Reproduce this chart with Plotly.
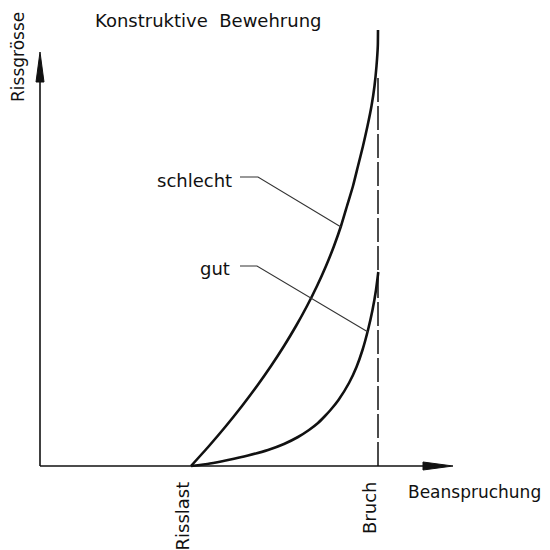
import plotly.graph_objects as go

# Schematic: Beanspruchung (x) vs. Rissgrösse (y), arbitrary units
risslast_x = 151
bruch_x = 338

schlecht_x = [151, 169, 186, 202, 217, 231, 244, 256, 267, 277, 286, 294, 301, 307,
              313, 318, 323, 327.5, 331.5, 334.5, 336.5, 337.8, 338]
schlecht_y = [0, 20, 40, 60, 80, 100, 120, 140, 160, 180, 200, 220, 240, 260,
              280, 300, 320, 340, 360, 380, 400, 420, 436]

gut_x = [151, 170, 188, 208, 228, 244, 258, 269, 278, 285, 290.5, 298.5, 309, 316.5,
         322.5, 328, 332.5, 336, 338.3]
gut_y = [0, 2.5, 6, 10.5, 16, 22, 29, 36, 43, 50, 56, 66, 83, 99,
         116, 136, 156, 176, 194]

tick_vals = [risslast_x, bruch_x]
tick_text = ["Risslast", "Bruch"]

FONT = "DejaVu Sans"
BLACK = "#111111"

fig = go.Figure()

fig.add_trace(go.Scatter(x=schlecht_x, y=schlecht_y, mode="lines",
                         line=dict(color=BLACK, width=2.6, shape="spline", smoothing=0.6),
                         hoverinfo="skip", showlegend=False))
fig.add_trace(go.Scatter(x=gut_x, y=gut_y, mode="lines",
                         line=dict(color=BLACK, width=2.6, shape="spline", smoothing=0.6),
                         hoverinfo="skip", showlegend=False))

shapes = []
# axes
shapes.append(dict(type="line", x0=0, y0=0, x1=0, y1=395, xref="x", yref="y",
                   line=dict(color=BLACK, width=1.6)))
shapes.append(dict(type="line", x0=0, y0=0, x1=395, y1=0, xref="x", yref="y",
                   line=dict(color=BLACK, width=1.6)))
# arrowheads
shapes.append(dict(type="path", path="M 0 414 L -4 384 L 4 384 Z", xref="x", yref="y",
                   fillcolor=BLACK, line=dict(color=BLACK, width=1)))
shapes.append(dict(type="path", path="M 413 0 L 383 -4 L 383 4 Z", xref="x", yref="y",
                   fillcolor=BLACK, line=dict(color=BLACK, width=1)))
# Bruch dashed line
shapes.append(dict(type="line", x0=bruch_x, y0=0, x1=bruch_x, y1=391, xref="x", yref="y",
                   line=dict(color=BLACK, width=1.5, dash="24px,4px")))
# leader lines
shapes.append(dict(type="path", path="M 200 289 L 218 289 L 301 239", xref="x", yref="y",
                   line=dict(color="#333333", width=1.1)))
shapes.append(dict(type="path", path="M 200 200 L 217 200 L 328 134", xref="x", yref="y",
                   line=dict(color="#333333", width=1.1)))

ann = []
ann.append(dict(x=168, y=446, text="Konstruktive  Bewehrung", showarrow=False,
                font=dict(family=FONT, size=18, color=BLACK), xanchor="center", yanchor="middle"))
ann.append(dict(x=-22, y=409, text="Rissgrösse", textangle=-90, showarrow=False,
                font=dict(family=FONT, size=17, color=BLACK), xanchor="center", yanchor="middle"))
ann.append(dict(x=434, y=-26, text="Beanspruchung", showarrow=False,
                font=dict(family=FONT, size=17, color=BLACK), xanchor="center", yanchor="middle"))
ann.append(dict(x=154, y=286, text="schlecht", showarrow=False,
                font=dict(family=FONT, size=18, color=BLACK), xanchor="center", yanchor="middle"))
ann.append(dict(x=175, y=198, text="gut", showarrow=False,
                font=dict(family=FONT, size=18, color=BLACK), xanchor="center", yanchor="middle"))
ann.append(dict(x=tick_vals[0] - 9, y=-14, text=tick_text[0], textangle=-90, showarrow=False,
                font=dict(family=FONT, size=18, color=BLACK), xanchor="center", yanchor="top"))
ann.append(dict(x=tick_vals[1] - 9, y=-14, text=tick_text[1], textangle=-90, showarrow=False,
                font=dict(family=FONT, size=18, color=BLACK), xanchor="center", yanchor="top"))

fig.update_layout(
    width=550, height=550,
    margin=dict(l=0, r=0, t=0, b=0),
    paper_bgcolor="white", plot_bgcolor="white",
    xaxis=dict(range=[-32, 518], visible=False, fixedrange=True),
    yaxis=dict(range=[-92, 458], visible=False, fixedrange=True),
    shapes=shapes, annotations=ann, showlegend=False,
)

fig.write_html("out.html")
